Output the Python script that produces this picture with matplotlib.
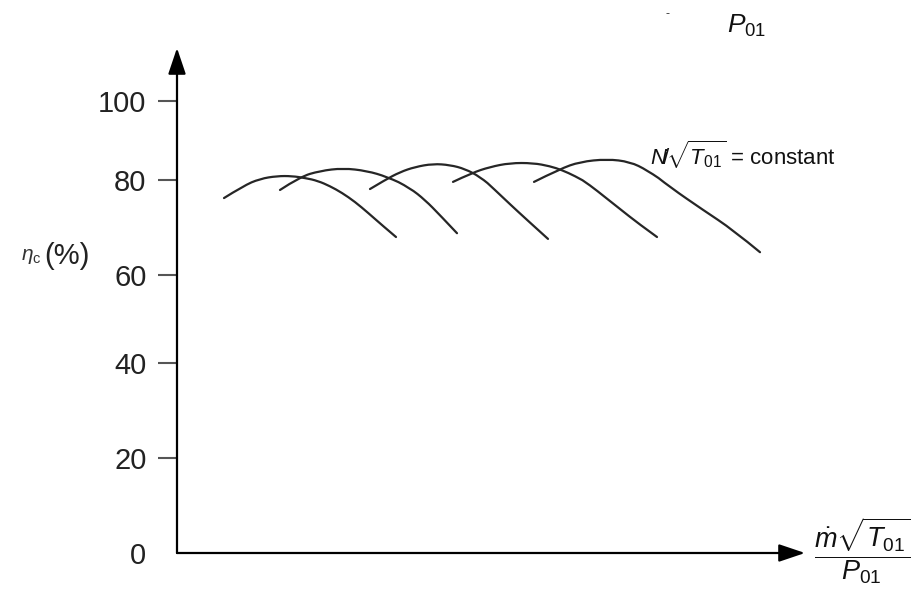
import numpy as np
import matplotlib
matplotlib.use("Agg")
import matplotlib.pyplot as plt
from matplotlib.path import Path
from matplotlib.patches import PathPatch

plt.rcParams['font.family'] = ['Liberation Sans', 'DejaVu Sans']
plt.rcParams['mathtext.fontset'] = 'custom'
plt.rcParams['mathtext.rm'] = 'Liberation Sans'
plt.rcParams['mathtext.it'] = 'Liberation Sans:italic'
plt.rcParams['mathtext.bf'] = 'Liberation Sans:bold'

# ---- data (x in arbitrary flow units) ----
c1_x = [0.47, 0.66, 0.83, 1.00, 1.15, 1.28, 1.41, 1.53, 1.65, 1.78, 1.91, 2.05, 2.19]
c1_y = [76.2, 78.7, 80.3, 81.0, 81.0, 80.5, 79.8, 78.7, 77.3, 75.4, 73.1, 70.5, 68.0]
c2_x = [1.03, 1.23, 1.43, 1.66, 1.90, 2.10, 2.33, 2.48, 2.63, 2.80]
c2_y = [77.9, 80.8, 82.3, 83.0, 82.3, 80.8, 78.3, 75.8, 72.6, 68.8]
c3_x = [1.93, 2.08, 2.23, 2.38, 2.56, 2.73, 2.88, 3.03, 3.18, 3.33, 3.50, 3.71]
c3_y = [78.1, 80.0, 82.0, 83.3, 84.1, 83.8, 82.8, 80.8, 77.9, 74.9, 71.6, 67.6]
c4_x = [2.76, 2.95, 3.13, 3.33, 3.56, 3.73, 3.85, 3.98, 4.13, 4.28, 4.43, 4.61, 4.80]
c4_y = [79.6, 81.8, 83.3, 84.3, 84.3, 83.5, 82.5, 81.0, 78.9, 76.4, 73.9, 70.9, 68.0]
c5_x = [3.57, 3.83, 4.03, 4.30, 4.53, 4.70, 4.93, 5.26, 5.56, 5.83]
c5_y = [79.6, 82.8, 84.6, 85.3, 84.6, 82.5, 78.5, 73.7, 69.5, 64.8]
curves = [(c1_x, c1_y), (c2_x, c2_y), (c3_x, c3_y), (c4_x, c4_y), (c5_x, c5_y)]

y_ticks = [0, 20, 40, 60, 80, 100]
y_tick_labels = ['0', '20', '40', '60', '80', '100']

# hand-drawn (slightly uneven) axis calibration
YV = np.array([0, 20, 40, 60, 80, 100], dtype=float)
YP = np.array([0, 95, 190, 278, 373, 452], dtype=float)


def fwd(v):
    v = np.asarray(v, dtype=float)
    return np.where(v > 100, 452 + (v - 100) * 3.95,
                    np.where(v < 0, v * 4.75, np.interp(v, YV, YP)))


def inv(p):
    p = np.asarray(p, dtype=float)
    return np.where(p > 452, 100 + (p - 452) / 3.95,
                    np.where(p < 0, p / 4.75, np.interp(p, YP, YV)))


def smooth_path(xs, ys):
    """Quadratic-Bezier path using the read points as control points."""
    pts = np.column_stack([xs, ys])
    verts = [pts[0]]
    codes = [Path.MOVETO]
    for i in range(1, len(pts) - 1):
        end = pts[i + 1] if i == len(pts) - 2 else (pts[i] + pts[i + 1]) / 2
        verts += [pts[i], end]
        codes += [Path.CURVE3, Path.CURVE3]
    return Path(verts, codes)


W, H = 923, 592
fig = plt.figure(figsize=(W / 100, H / 100), dpi=100)
ax = fig.add_axes([177 / W, 39 / H, 628 / W, 505 / H])
ax.set_yscale('function', functions=(fwd, inv))
ax.set_xlim(0, 6.28)
ax.set_ylim(0, 100 + 53 / 3.95)

for xs, ys in curves:
    ax.add_patch(PathPatch(smooth_path(xs, ys), facecolor='none',
                           edgecolor='#262626', lw=1.6, capstyle='round'))

for s in ax.spines.values():
    s.set_visible(False)
ax.set_xticks([])
ax.set_yticks(y_ticks)
ax.set_yticklabels(y_tick_labels)
ax.minorticks_off()
ax.tick_params(axis='y', direction='out', length=14, width=1.5,
               color='#555555', pad=8, labelsize=21, labelcolor='#222222')
ax.yaxis.get_major_ticks()[0].tick1line.set_visible(False)

arrow = dict(arrowstyle='-|>,head_length=0.8,head_width=0.27', color='black',
             lw=1.6, mutation_scale=20, shrinkA=0, shrinkB=0)
ax.annotate('', xy=(1, 0), xytext=(0, 0), xycoords='axes fraction',
            arrowprops=arrow, annotation_clip=False)
ax.annotate('', xy=(0, 1), xytext=(0, 0), xycoords='axes fraction',
            arrowprops=arrow, annotation_clip=False)

# labels
fig.text(31 / W, 1 - 257 / H, r'$\eta_{\rm c}$', fontsize=15, ha='center', va='center',
         color='#333333')
fig.text(44 / W, 1 - 256 / H, '(%)', fontsize=21, ha='left', va='center', color='#222222')

fig.text(650 / W, 1 - 155 / H, r'$N\!/\!\sqrt{T_{01}}$ = constant', fontsize=16,
         ha='left', va='center', color='#111111')

fig.text(862 / W, 1 - 551 / H, r'$\dfrac{\dot{m}\sqrt{T_{01}}}{P_{01}}$', fontsize=19.5,
         ha='center', va='center', color='#111111')

fig.text(727 / W, 1 - 26 / H, r'$P_{01}$', fontsize=19, ha='left', va='center',
         color='#111111')
fig.text(668 / W, 1 - 14 / H, '-', fontsize=9, ha='center', va='center', color='#333333')

fig.savefig('out.png', dpi=100)
